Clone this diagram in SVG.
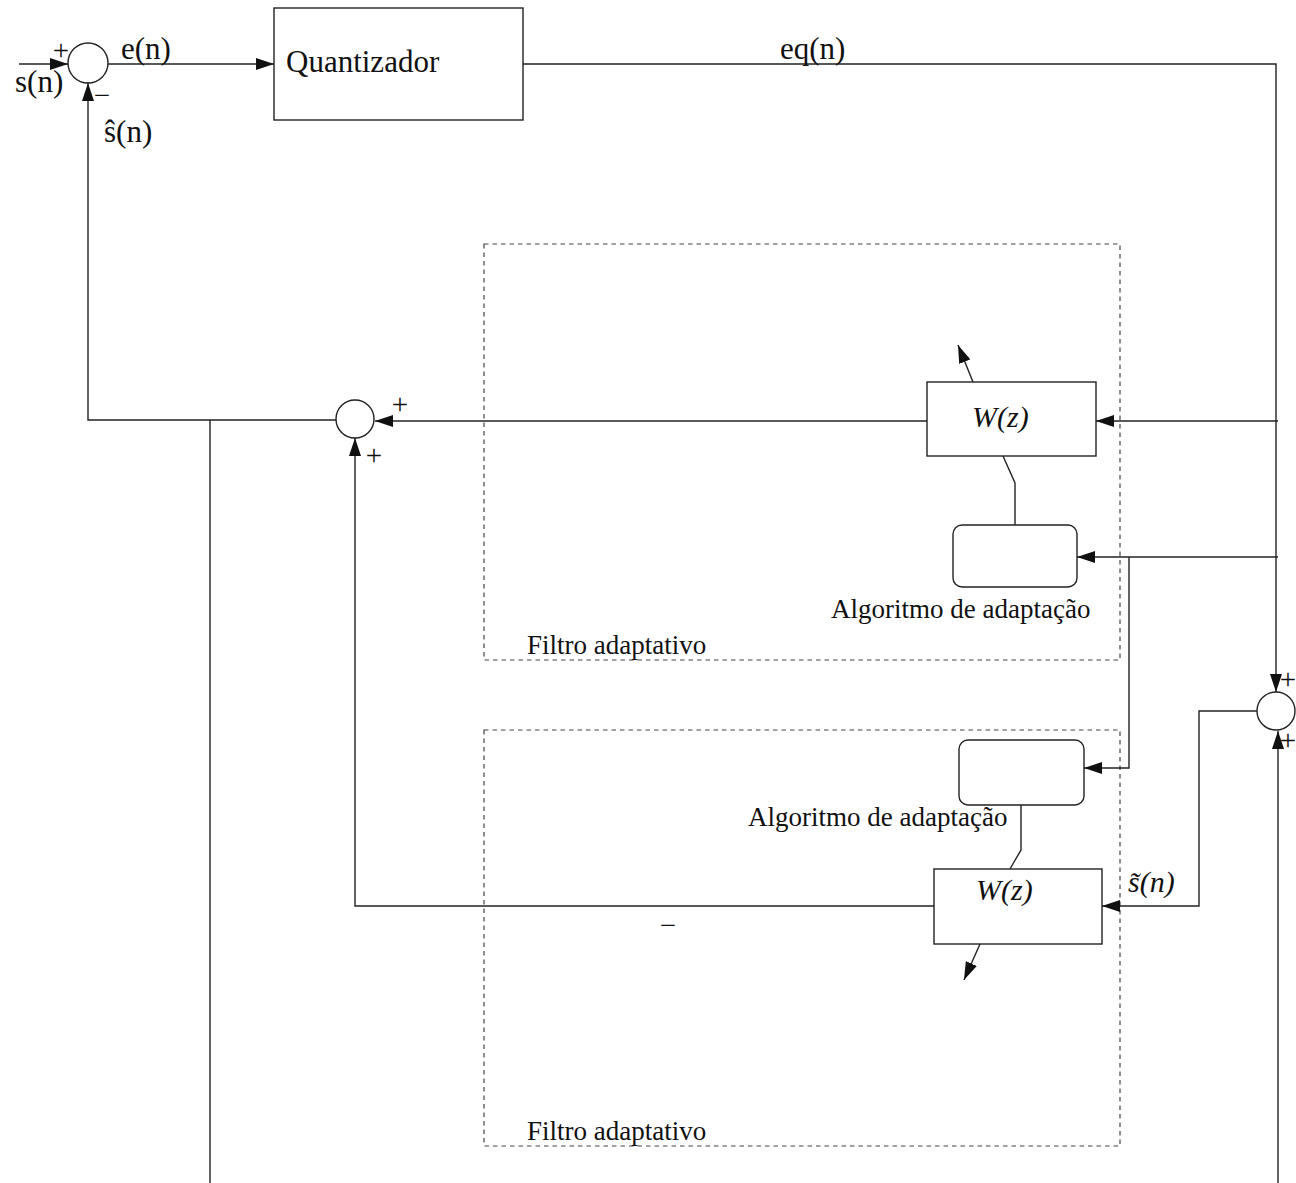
<svg xmlns="http://www.w3.org/2000/svg" width="1296" height="1183" viewBox="0 0 1296 1183">
<style>
.ln{fill:none;stroke:#222;stroke-width:1.4}
.bx{fill:#fff;stroke:#222;stroke-width:1.4}
.dash{fill:none;stroke:#444;stroke-width:1.2;stroke-dasharray:4.5 4}
.t{font-family:"Liberation Serif","Times New Roman",serif;fill:#111}
.lab{font-size:31px}
.sm{font-size:27px}
.it{font-style:italic;font-size:30px}
.sg{font-size:29px}
</style>
<defs>
<marker id="ah" viewBox="0 0 18 12" refX="18" refY="6" markerWidth="18" markerHeight="12" markerUnits="userSpaceOnUse" orient="auto">
<path d="M0,0 L18,6 L0,12 z" fill="#111"/>
</marker>
</defs>
<rect width="1296" height="1183" fill="#fff"/>
<g id="filter1-frame"><rect class="dash" x="484" y="244" width="636" height="416"/><text class="t sm" x="527" y="654">Filtro adaptativo</text></g>
<g id="filter2-frame"><rect class="dash" x="484" y="730" width="636" height="416"/><text class="t sm" x="527" y="1140">Filtro adaptativo</text></g>
<g id="connectors">
<path class="ln" d="M19,64 H68" marker-end="url(#ah)"/>
<path class="ln" d="M108,64 H274" marker-end="url(#ah)"/>
<path class="ln" d="M523,64 H1276 V692" marker-end="url(#ah)"/>
<path class="ln" d="M336,420 H88 V83" marker-end="url(#ah)"/>
<path class="ln" d="M210,420 V1183"/>
<path class="ln" d="M927,421 H375" marker-end="url(#ah)"/>
<path class="ln" d="M934,906 H355 V438" marker-end="url(#ah)"/>
<path class="ln" d="M1278,421 H1096" marker-end="url(#ah)"/>
<path class="ln" d="M1278,557 H1077" marker-end="url(#ah)"/>
<path class="ln" d="M1129,557 V768 H1084" marker-end="url(#ah)"/>
<path class="ln" d="M1257,711 H1199 V906 H1102" marker-end="url(#ah)"/>
<path class="ln" d="M1278,1183 V731" marker-end="url(#ah)"/>
<path class="ln" d="M1003,456 L1015,483 V525"/>
<path class="ln" d="M1021,805 V850 L1010,869"/>
<path class="ln" d="M973,382 L958,345" marker-end="url(#ah)"/>
<path class="ln" d="M980,944 L964,980" marker-end="url(#ah)"/>
</g>
<g id="sum1"><circle class="bx" cx="88" cy="63" r="20"/>
<text class="t sg" x="61" y="60" text-anchor="middle">+</text>
<text class="t sg" x="102" y="105" text-anchor="middle">−</text></g>
<g id="labels-top">
<text class="t lab" x="15" y="92">s(n)</text>
<text class="t lab" x="121" y="59">e(n)</text>
<text class="t lab" x="104" y="142">ŝ(n)</text>
<text class="t lab" x="780" y="59">eq(n)</text>
</g>
<g id="quantizador"><rect class="bx" x="274" y="8" width="249" height="112"/><text class="t lab" x="286" y="72">Quantizador</text></g>
<g id="sum2"><circle class="bx" cx="355" cy="419" r="19"/>
<text class="t sg" x="400" y="414" text-anchor="middle">+</text>
<text class="t sg" x="374" y="465" text-anchor="middle">+</text></g>
<g id="sum3"><circle class="bx" cx="1276" cy="711" r="19"/>
<text class="t sg" x="1288" y="689" text-anchor="middle">+</text>
<text class="t sg" x="1288" y="750" text-anchor="middle">+</text></g>
<g id="wz1"><rect class="bx" x="927" y="382" width="169" height="74"/><text class="t it" x="972" y="427">W(z)</text></g>
<g id="alg1"><rect class="bx" x="953" y="525" width="124" height="62" rx="9"/><text class="t sm" x="831" y="618">Algoritmo de adaptação</text></g>
<g id="alg2"><rect class="bx" x="959" y="740" width="125" height="65" rx="9"/><text class="t sm" x="748" y="826">Algoritmo de adaptação</text></g>
<g id="wz2"><rect class="bx" x="934" y="869" width="168" height="75"/><text class="t it" x="976" y="900">W(z)</text>
<text class="t sg" x="668" y="935" text-anchor="middle">−</text></g>
<g id="stilde"><text class="t it" x="1128" y="892">s̃(n)</text></g>
</svg>
